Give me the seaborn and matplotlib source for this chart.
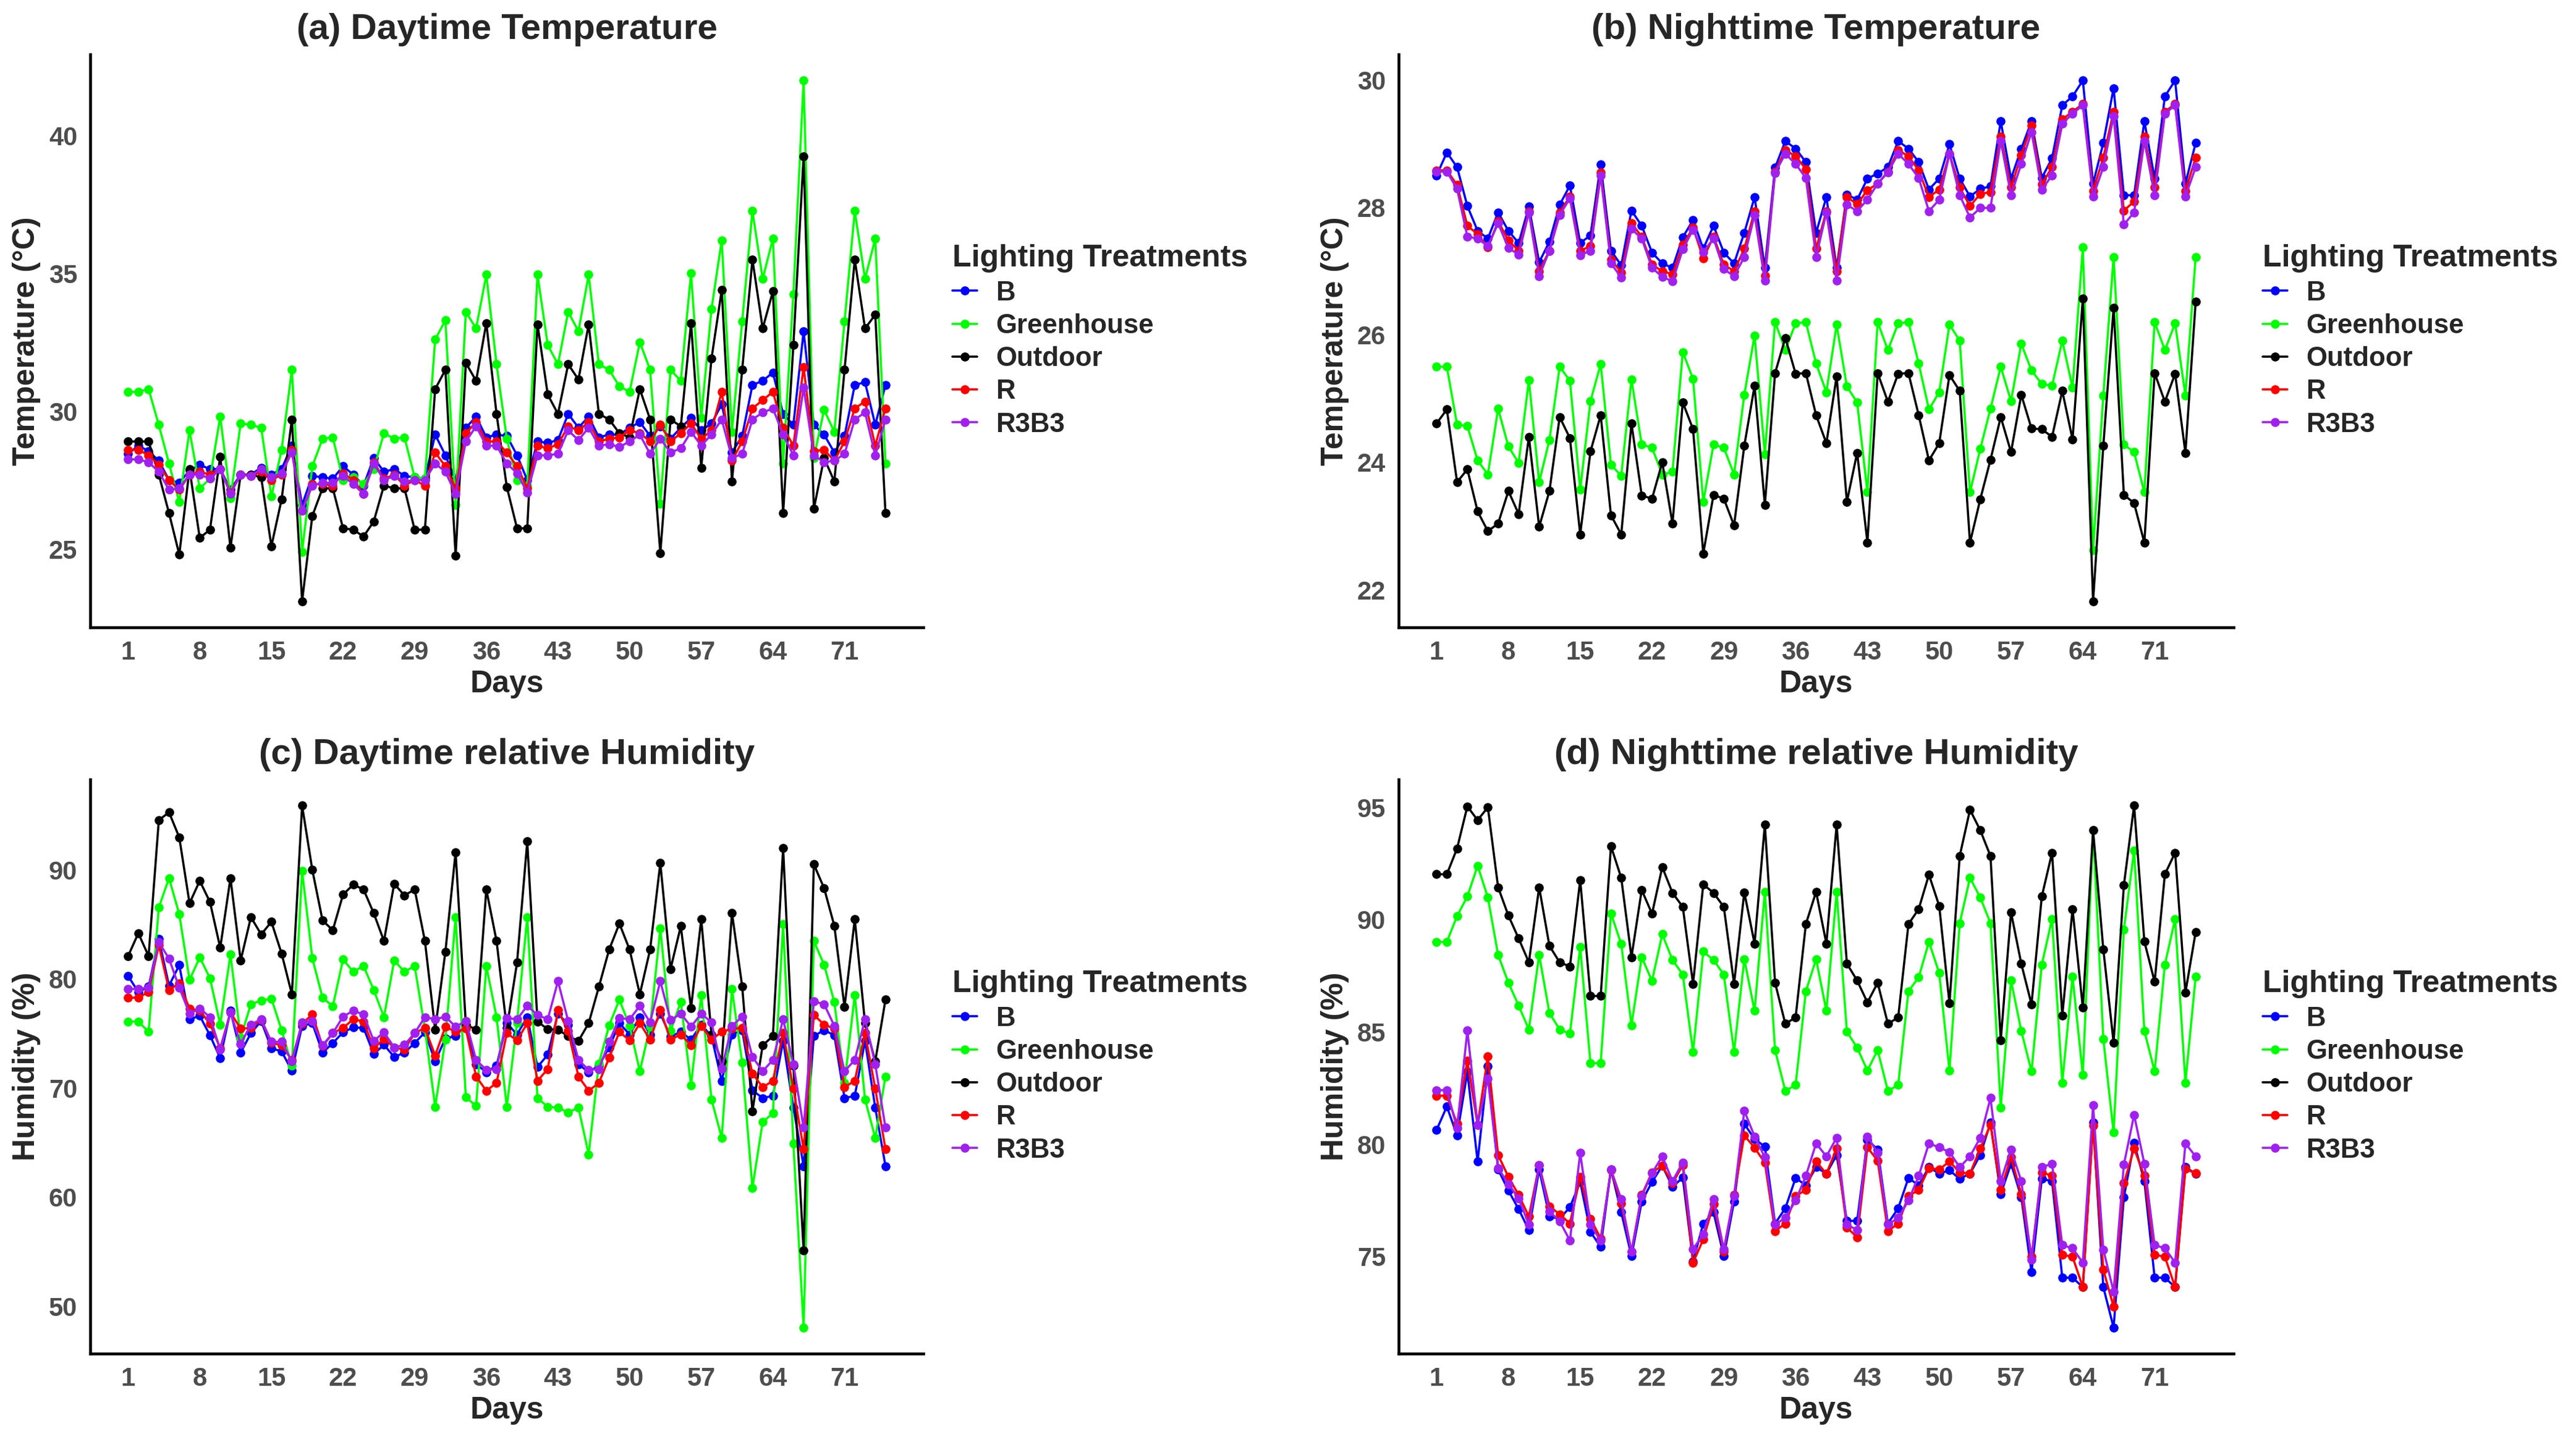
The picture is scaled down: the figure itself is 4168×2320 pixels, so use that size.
import matplotlib
matplotlib.use("Agg")
import matplotlib.pyplot as plt
import pandas as pd
import seaborn as sns
from matplotlib.lines import Line2D

treatments = ["B", "Greenhouse", "Outdoor", "R", "R3B3"]
palette = {"B": "#0000FF", "Greenhouse": "#00FF00", "Outdoor": "#000000",
           "R": "#FF0000", "R3B3": "#A020F0"}
x_ticks = [1, 8, 15, 22, 29, 36, 43, 50, 57, 64, 71]

# ---------------- (a) Daytime temperature ----------------
dayT_B = [28.45,28.75,28.55,28.2,27.5,27.4,27.85,28.05,27.9,27.9,27.15,27.7,27.7,27.95,27.7,27.9,28.75,26.6,27.65,27.6,27.55,28.0,27.7,27.3,28.3,27.8,27.9,27.65,27.6,27.55,29.15,28.4,27.5,29.4,29.8,29.05,
          29.15,29.1,28.4,27.5,28.9,28.85,28.95,29.9,29.4,29.8,29.05,29.15,29.15,29.4,29.6,29.1,29.45,29.0,29.4,29.75,29.3,29.55,30.25,28.5,29.1,30.95,31.1,31.4,29.9,29.5,32.9,29.5,29.15,28.5,29.1,30.95,31.05,29.5,30.95]
dayT_G = [30.7,30.7,30.8,29.5,28.1,26.7,29.3,27.2,27.55,29.8,26.85,29.56,29.5,29.4,26.9,28.6,31.5,24.9,28.0,29.0,29.05,27.5,27.6,27.35,27.9,29.2,29.0,29.05,27.6,27.55,32.6,33.3,26.6,33.6,33.0,34.95,
          31.7,29.0,27.5,27.3,34.95,32.4,31.7,33.6,32.9,34.95,31.7,31.5,30.9,30.7,32.5,31.5,26.65,31.5,31.1,35.0,29.76,33.7,36.2,29.25,33.25,37.26,34.8,36.26,28.1,34.25,42.0,28.3,30.05,29.25,33.25,37.26,34.8,36.26,28.1]
dayT_O = [28.9,28.9,28.9,27.7,26.3,24.8,27.9,25.4,25.7,28.35,25.05,27.7,27.7,27.6,25.1,26.8,29.7,23.1,26.2,27.2,27.2,25.75,25.7,25.45,26.0,27.3,27.2,27.2,25.7,25.7,30.8,31.5,24.75,31.75,31.1,33.2,
          29.9,27.25,25.75,25.75,33.15,30.6,29.9,31.7,31.15,33.15,29.9,29.7,29.2,29.05,30.8,29.7,24.85,29.7,29.45,33.2,27.95,31.9,34.4,27.45,31.5,35.5,33.0,34.35,26.3,32.4,39.25,26.45,28.3,27.45,31.5,35.5,33.0,33.5,26.3]
dayT_R = [28.6,28.6,28.4,28.05,27.5,27.15,27.7,27.8,27.7,27.9,27.05,27.7,27.65,27.8,27.5,27.7,28.6,26.4,27.35,27.35,27.3,27.75,27.5,27.0,28.15,27.55,27.7,27.3,27.5,27.3,28.5,28.0,27.2,29.2,29.6,28.9,
          28.9,28.5,28.0,27.2,28.75,28.65,28.8,29.45,29.3,29.6,28.9,29.0,29.05,29.3,29.2,28.9,29.5,28.9,29.2,29.55,29.0,29.3,30.7,28.2,28.9,30.1,30.4,30.7,29.4,28.75,31.6,28.55,28.6,28.2,28.9,30.1,30.35,28.75,30.1]
dayT_RB = [28.25,28.25,28.15,27.8,27.15,27.2,27.7,27.7,27.55,27.9,27.0,27.7,27.65,27.9,27.6,27.75,28.5,26.4,27.3,27.4,27.4,27.65,27.35,27.0,28.1,27.5,27.65,27.45,27.5,27.5,28.1,27.8,27.0,28.9,29.45,28.75,
           28.75,28.1,27.75,27.05,28.4,28.4,28.45,29.3,28.95,29.4,28.75,28.8,28.7,28.9,29.15,28.45,29.0,28.5,28.65,29.25,28.75,29.15,29.7,28.3,28.45,29.7,29.95,30.1,29.15,28.4,30.85,28.4,28.15,28.2,28.45,29.7,29.95,28.4,29.7]

# ---------------- (b) Nighttime temperature ----------------
nightT_B = [28.5,28.86,28.63,28.02,27.63,27.51,27.92,27.63,27.44,28.01,27.14,27.46,28.04,28.34,27.44,27.56,28.67,27.32,27.09,27.95,27.71,27.29,27.12,27.05,27.53,27.8,27.35,27.71,27.29,27.12,27.6,28.16,27.05,28.62,29.04,
            28.92,28.71,27.6,28.16,27.05,28.2,28.12,28.45,28.53,28.63,29.04,28.92,28.71,28.28,28.45,28.99,28.45,28.17,28.29,28.33,29.35,28.45,28.92,29.35,28.46,28.77,29.6,29.74,29.99,28.37,29.01,29.87,28.19,28.19,29.35,28.45,29.74,29.99,28.37,29.01]
nightT_G = [25.5,25.5,24.59,24.57,24.03,23.81,24.84,24.25,23.99,25.29,23.69,24.35,25.5,25.28,23.57,24.96,25.54,23.96,23.79,25.3,24.28,24.23,23.81,23.85,25.73,25.31,23.38,24.28,24.23,23.81,25.06,25.99,24.13,26.2,25.76,
            26.18,26.2,25.55,25.1,26.16,25.19,24.94,23.53,26.2,25.76,26.18,26.2,25.55,24.83,25.1,26.16,25.91,23.53,24.21,24.84,25.5,24.96,25.86,25.44,25.23,25.2,25.91,25.17,27.37,22.62,25.05,27.22,24.28,24.16,23.53,26.2,25.76,26.18,25.05,27.22]
nightT_O = [24.61,24.83,23.69,23.89,23.23,22.92,23.04,23.55,23.19,24.4,22.99,23.55,24.71,24.38,22.87,24.17,24.74,23.17,22.87,24.61,23.48,23.43,24.0,23.04,24.94,24.52,22.57,23.49,23.43,23.01,24.26,25.2,23.33,25.4,25.95,
            25.39,25.4,24.74,24.3,25.35,23.38,24.15,22.74,25.4,24.95,25.39,25.4,24.74,24.03,24.3,25.37,25.12,22.74,23.42,24.04,24.71,24.16,25.06,24.53,24.52,24.4,25.12,24.36,26.57,21.82,24.26,26.42,23.49,23.36,22.74,25.4,24.95,25.39,24.15,26.52]
nightT_R = [28.58,28.58,28.35,27.71,27.58,27.37,27.78,27.48,27.32,27.94,27.0,27.32,27.92,28.17,27.32,27.39,28.55,27.18,26.98,27.75,27.54,27.1,27.0,26.95,27.41,27.68,27.2,27.54,27.1,27.0,27.35,27.94,26.93,28.56,28.9,
            28.8,28.6,27.35,27.94,27.0,28.16,28.05,28.27,28.37,28.56,28.9,28.8,28.58,28.16,28.28,28.84,28.31,28.02,28.21,28.24,29.11,28.31,28.82,29.28,28.36,28.63,29.38,29.5,29.62,28.26,28.78,29.5,27.95,28.09,29.11,28.31,29.5,29.62,28.26,28.78]
nightT_RB = [28.56,28.56,28.29,27.54,27.51,27.39,27.75,27.36,27.26,27.92,26.92,27.32,27.88,28.14,27.25,27.32,28.5,27.12,26.9,27.66,27.51,27.05,26.91,26.84,27.34,27.65,27.3,27.51,27.03,26.92,27.22,27.88,26.85,28.54,28.84,
             28.68,28.46,27.22,27.92,26.85,28.04,27.94,28.12,28.37,28.55,28.84,28.68,28.46,27.94,28.12,28.84,28.19,27.84,27.99,27.99,29.04,28.19,28.68,29.18,28.28,28.5,29.31,29.47,29.6,28.17,28.63,29.43,27.73,27.92,29.04,28.19,29.47,29.6,28.17,28.63]

# ---------------- (c) Daytime relative humidity ----------------
dayH_B = [80.28,78.81,79.29,83.65,79.4,81.27,76.31,76.63,74.84,72.74,77.1,73.25,75.04,76.15,73.65,73.37,71.59,75.71,75.95,73.25,74.13,75.12,75.56,75.52,73.13,73.97,72.86,73.25,74.13,75.12,72.46,74.56,74.76,75.83,72.18,71.47,
          72.06,75.95,74.92,76.51,71.94,73.06,76.83,75.83,72.18,71.47,72.06,73.73,75.95,74.92,76.51,74.92,76.83,74.72,75.16,74.44,75.83,74.76,70.67,74.92,75.32,69.8,69.09,69.29,74.33,68.21,62.86,74.76,75.32,74.84,69.09,69.29,74.33,68.21,62.86]
dayH_G = [76.11,76.11,75.16,86.55,89.25,85.95,79.92,81.98,80.08,75.83,82.26,74.64,77.7,78.02,78.21,75.32,72.06,89.92,81.9,78.29,77.5,81.79,80.67,81.19,79.0,76.51,81.7,80.67,81.19,75.44,68.29,74.44,85.67,69.17,68.37,81.19,
          76.51,68.29,76.0,85.67,69.09,68.29,68.21,67.78,68.21,63.93,72.26,75.75,78.1,75.71,71.55,75.63,84.64,75.24,77.9,70.28,78.53,68.97,65.44,79.09,72.34,60.87,66.9,67.7,85.04,64.92,48.06,83.49,81.31,77.9,70.48,78.53,68.97,65.44,71.07]
dayH_O = [82.1,84.2,82.1,94.56,95.28,92.98,86.94,89.0,87.06,82.86,89.25,81.7,85.67,84.09,85.24,82.34,78.6,95.9,90.0,85.36,84.48,87.74,88.65,88.21,86.03,83.49,88.73,87.66,88.21,83.49,75.36,82.5,91.63,75.83,75.36,88.21,
          83.49,75.5,81.5,92.6,76.1,75.4,75.36,74.76,74.33,75.95,79.29,82.7,85.08,82.7,78.6,82.7,90.63,80.91,84.84,77.34,85.48,74.92,72.46,86.07,79.33,67.9,73.93,74.76,92.02,72.06,55.12,90.52,88.33,84.88,77.42,85.48,75.95,72.46,78.1]
dayH_R = [78.29,78.29,78.81,83.1,79.0,79.6,77.3,77.1,75.91,73.65,76.94,75.44,75.52,76.23,74.17,73.93,72.58,75.91,76.75,73.85,75.04,75.52,76.31,76.11,73.65,74.52,73.73,73.53,75.04,75.52,72.98,75.63,75.16,75.44,71.07,69.76,
          70.48,75.04,74.37,75.95,70.67,71.75,77.14,75.24,71.07,69.76,70.48,72.78,75.16,74.37,75.95,74.44,77.14,74.44,74.92,73.93,75.71,74.44,75.16,75.44,75.52,71.35,70.08,70.67,75.04,69.96,64.4,76.71,75.83,75.44,70.08,70.67,75.04,69.96,64.4]
dayH_RB = [79.09,79.09,79.21,83.37,81.87,79.21,76.83,77.3,76.51,73.53,76.94,74.05,75.83,76.31,74.25,74.25,72.46,76.03,76.15,73.93,75.04,76.55,77.1,76.75,74.33,75.12,73.73,73.97,75.04,76.51,76.31,76.55,75.63,76.15,72.58,71.67,
           71.75,76.43,76.31,77.54,76.71,76.31,79.8,76.15,72.58,71.67,71.75,74.25,76.43,76.31,77.54,76.03,79.8,76.23,76.83,75.63,76.83,76.03,71.79,75.71,76.55,72.86,71.55,72.58,76.31,72.18,66.39,77.94,77.7,75.71,71.55,72.58,76.31,72.18,66.39]

# ---------------- (d) Nighttime relative humidity ----------------
nightH_B = [80.64,81.68,80.39,83.22,79.23,83.47,78.88,77.94,77.11,76.18,78.88,76.78,76.68,77.2,78.32,76.1,75.43,78.88,76.97,75.02,77.45,78.32,79.04,78.11,78.51,74.79,76.47,76.97,75.02,77.45,80.91,80.23,79.9,76.47,77.15,
            78.5,78.17,78.98,78.69,79.52,76.59,76.59,80.19,79.77,76.47,77.15,78.5,78.17,78.98,78.69,78.84,78.46,78.69,79.52,80.96,77.78,79.13,77.65,74.31,78.46,78.36,74.06,74.06,73.64,80.96,73.64,71.84,77.63,80.06,78.36,74.06,74.06,73.64,78.98,78.69]
nightH_G = [89.01,89.01,90.16,91.03,92.4,90.99,88.43,87.19,86.17,85.11,88.43,85.84,85.11,84.92,88.78,83.61,83.61,90.28,88.91,85.3,88.33,87.27,89.35,88.2,87.56,84.11,88.58,88.2,87.56,84.11,88.24,85.94,91.24,84.19,82.37,
            82.64,86.81,88.24,85.94,91.24,85.01,84.3,83.28,84.19,82.37,82.64,86.81,87.43,89.01,87.62,83.28,89.84,91.86,90.99,89.84,81.64,87.29,85.05,83.24,88.0,90.03,82.74,87.46,83.09,93.98,84.69,80.52,89.55,93.08,85.05,83.24,88.0,90.03,82.74,87.46]
nightH_O = [92.02,92.02,93.17,95.04,94.43,95.0,91.44,90.18,89.16,88.1,91.44,88.83,88.1,87.91,91.76,86.6,86.6,93.27,91.86,88.33,91.32,90.26,92.34,91.19,90.57,87.14,91.57,91.19,90.57,87.14,91.22,88.93,94.23,87.19,85.36,
            85.65,89.8,91.24,88.93,94.23,88.04,87.29,86.31,87.19,85.36,85.65,89.8,90.47,92.0,90.61,86.27,92.83,94.89,93.98,92.83,84.63,90.32,88.04,86.23,91.03,92.98,85.73,90.47,86.08,93.98,88.68,84.53,91.53,95.08,89.03,87.23,92.02,92.98,86.75,89.45]
nightH_R = [82.16,82.16,80.91,83.72,80.87,83.92,79.52,78.55,77.74,76.78,79.07,77.24,76.88,76.47,78.55,76.68,75.81,78.84,77.36,75.22,77.74,78.75,79.04,78.26,79.07,74.73,75.76,77.34,75.22,77.74,80.39,79.85,79.17,76.14,76.47,
            77.69,77.97,79.23,78.69,79.81,76.3,75.85,79.86,79.27,76.14,76.47,77.69,77.97,78.94,78.88,79.23,78.75,78.69,79.81,80.87,77.97,79.42,77.78,74.99,78.75,78.59,75.08,74.99,73.64,80.83,74.41,72.77,78.26,79.81,78.59,75.08,74.99,73.64,78.9,78.7]
nightH_RB = [82.41,82.41,80.71,85.07,80.87,82.93,78.94,78.23,77.59,76.43,79.07,77.01,76.57,75.72,79.61,76.43,75.7,78.88,77.55,75.22,77.69,78.71,79.46,78.36,79.19,75.33,75.99,77.55,75.33,77.69,81.49,80.35,79.42,76.43,76.72,
             77.49,78.59,80.04,79.46,80.29,76.43,76.18,80.35,79.61,76.43,76.72,77.49,78.59,80.04,79.86,79.65,78.98,79.46,80.29,82.06,78.36,79.77,78.36,74.85,78.98,79.13,75.51,75.37,74.73,81.74,75.31,73.44,79.09,81.31,79.13,75.51,75.37,74.73,80.04,79.46]

panels = [
    ("(a) Daytime Temperature", "Temperature (°C)", [25, 30, 35, 40],
     [dayT_B, dayT_G, dayT_O, dayT_R, dayT_RB]),
    ("(b) Nighttime Temperature", "Temperature (°C)", [22, 24, 26, 28, 30],
     [nightT_B, nightT_G, nightT_O, nightT_R, nightT_RB]),
    ("(c) Daytime relative Humidity", "Humidity (%)", [50, 60, 70, 80, 90],
     [dayH_B, dayH_G, dayH_O, dayH_R, dayH_RB]),
    ("(d) Nighttime relative Humidity", "Humidity (%)", [75, 80, 85, 90, 95],
     [nightH_B, nightH_G, nightH_O, nightH_R, nightH_RB]),
]

sns.set_style("white")
plt.rcParams["font.family"] = ["Liberation Sans", "DejaVu Sans"]

W, H = 4168, 2320
fig = plt.figure(figsize=(W / 300, H / 300), dpi=300)
rects = [
    [146 / W, 1 - 1015 / H, 1348 / W, 927 / H],
    [2263 / W, 1 - 1015 / H, 1351 / W, 927 / H],
    [146 / W, 1 - 2190 / H, 1348 / W, 929 / H],
    [2263 / W, 1 - 2190 / H, 1351 / W, 929 / H],
]

tick_color = "#4D4D4D"
for rect, (title, ylabel, yticks, series) in zip(rects, panels):
    ax = fig.add_axes(rect)
    frames = []
    for name, vals in zip(treatments, series):
        frames.append(pd.DataFrame({"Day": range(1, len(vals) + 1),
                                    "Value": vals, "Treatment": name}))
    df = pd.concat(frames, ignore_index=True)
    sns.lineplot(data=df, x="Day", y="Value", hue="Treatment",
                 hue_order=treatments, palette=palette, estimator=None,
                 marker="o", markersize=3.5, markeredgewidth=0,
                 linewidth=0.85, legend=False, ax=ax)
    ax.margins(x=0.05, y=0.05)
    ax.set_xticks(x_ticks)
    ax.set_yticks(yticks)
    sns.despine(ax=ax)
    for s in ("left", "bottom"):
        ax.spines[s].set_linewidth(1.1)
        ax.spines[s].set_color("black")
    ax.tick_params(axis="both", length=0, pad=5, labelsize=10,
                   labelcolor=tick_color)
    for lab in ax.get_xticklabels() + ax.get_yticklabels():
        lab.set_fontweight("bold")
    ax.set_title(title, fontsize=14, fontweight="bold", pad=6)
    ax.set_xlabel("Days", fontsize=12, fontweight="bold", labelpad=2)
    ax.set_ylabel(ylabel, fontsize=12, fontweight="bold", labelpad=3)
    handles = [Line2D([0], [0], color=palette[t], marker="o", markersize=3.5,
                      markeredgewidth=0, linewidth=0.85) for t in treatments]
    ax.legend(handles, treatments, title="Lighting Treatments",
              loc="center left", bbox_to_anchor=(1.035, 0.5), frameon=False,
              prop={"weight": "bold", "size": 10.5},
              title_fontproperties={"weight": "bold", "size": 12},
              alignment="left", handlelength=0.9, handletextpad=0.7,
              labelspacing=0.28, borderaxespad=0, borderpad=0)

fig.savefig("out.png", dpi=300)
